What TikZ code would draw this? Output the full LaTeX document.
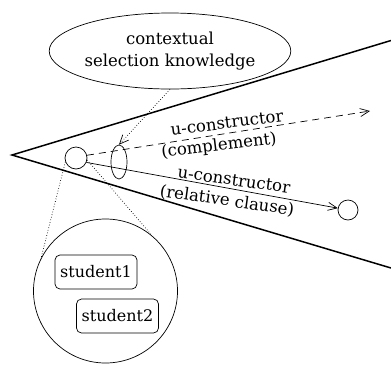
\documentclass[tikz,border=0pt]{standalone}
\usepackage{fontspec}
\setmainfont{DejaVu Serif}
\usepackage{tikz}
\usetikzlibrary{positioning, arrows.meta, shapes.geometric}

\begin{document}
\begin{tikzpicture}[
  x=1pt, y=-1pt,
  lbl/.style={font=\fontsize{16.5}{18}\selectfont, inner sep=0pt},
  blob/.style={draw, line width=0.7pt, inner sep=0pt},
  stud/.style={draw, line width=0.7pt, rounded corners=5pt, minimum width=82pt, minimum height=34pt, inner sep=0pt, font=\fontsize{16}{18}\selectfont},
  tip/.style={-{Straight Barb[length=9pt,width=8pt]}},
]
\useasboundingbox (0,0) rectangle (391,365);

% Wedge
\draw[line width=1.5pt] (391,40.5) -- (12,155) -- (391,268);

% Knowledge and sets
\node[blob, ellipse, minimum width=172pt, minimum height=76pt, align=center,
  font=\fontsize{16.5}{22}\selectfont] (ctx) at (170,51) {contextual\\selection knowledge};
\node[blob, circle, minimum size=22pt] (sc) at (76,158) {};
\node[blob, ellipse, minimum width=16pt, minimum height=34pt] (se) at (119,162) {};
\node[blob, circle, minimum size=20pt] (ec) at (348,210) {};
\coordinate (dend) at (370,111);

% Magnified set
\node[blob, circle, minimum size=144pt] (mag) at (105.5,291) {};
\node[stud] (s1) at (96,272) {student1};
\node[stud] (s2) at (117.5,316) {student2};

% Connectors
\draw[tip, dotted, line width=0.7pt] (ctx.south) -- (se.north);
\draw[tip, line width=0.7pt, dash pattern=on 7pt off 5pt] (sc.14) -- (dend);
\draw[tip, line width=0.7pt] (sc.-23) -- (ec);
\draw[dotted, line width=0.7pt] (sc.200) -- (mag.153);
\draw[dotted, line width=0.7pt] (sc.-10) -- (mag.50);

% Labels
\node[lbl, rotate=7] (dl1) at (227,123) {u-constructor};
\node[lbl, rotate=7] (dl2) at (219,146) {(complement)};
\node[lbl, rotate=-8] (sl1) at (234,180) {u-constructor};
\node[lbl, rotate=-8] (sl2) at (227,201) {(relative clause)};

\end{tikzpicture}
\end{document}
